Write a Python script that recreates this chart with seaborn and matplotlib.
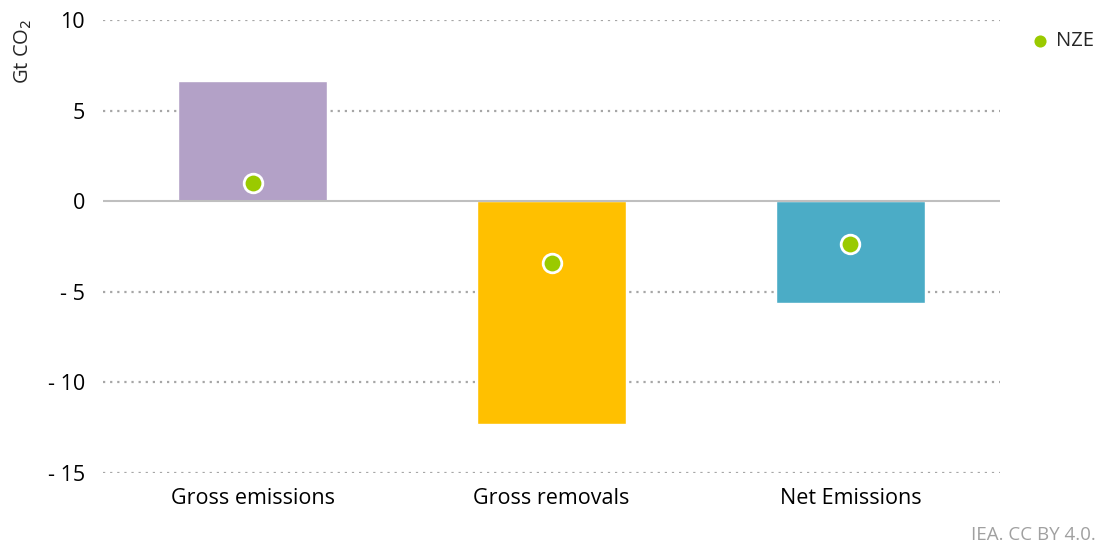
import matplotlib
matplotlib.use('Agg')
import matplotlib.pyplot as plt
import seaborn as sns
import pandas as pd

# Veriler
categories = ["Gross emissions", "Gross removals", "Net Emissions"]
bar_values = [6.62, -12.32, -5.63]
nze_values = [1.0, -3.4, -2.35]
bar_colors = ["#B3A1C7", "#FFC000", "#4BACC6"]
y_ticks = [10, 5, 0, -5, -10, -15]
y_ticklabels = ["10", "5", "0", "- 5", "- 10", "- 15"]

df = pd.DataFrame({"cat": categories, "val": bar_values, "nze": nze_values})

sns.set_style("white")
plt.rcParams['font.family'] = ['Open Sans', 'DejaVu Sans']

fig = plt.figure(figsize=(11.03, 5.52), dpi=100)
ax = fig.add_axes([0.0934, 0.1431, 0.8132, 0.8207])

sns.barplot(data=df, x="cat", y="val", hue="cat", palette=bar_colors,
            width=0.5, legend=False, ax=ax, saturation=1)
sns.scatterplot(data=df, x="cat", y="nze", color="#9ACA00", s=180,
                edgecolor="white", linewidth=2, zorder=5, ax=ax, label="NZE")

ax.set_xlim(-0.5, 2.5)
ax.set_ylim(-15, 10)
ax.set_yticks(y_ticks)
ax.set_yticklabels(y_ticklabels)
for y in y_ticks:
    if y == 0:
        ax.axhline(0, color="#BFBFBF", lw=1.5, zorder=3)
    else:
        ax.axhline(y, color="#A6A6A6", lw=1.6, ls=(0, (1, 2.2)), zorder=0)

for s in ax.spines.values():
    s.set_visible(False)
ax.tick_params(axis='both', length=0, labelsize=15.5, colors="#000000")
ax.tick_params(axis='y', pad=13)
ax.tick_params(axis='x', pad=11)
ax.set_xlabel("")
ax.set_ylabel("Gt CO$_2$", fontsize=14.5)
ax.yaxis.set_label_coords(-0.0775, 0.93)

ax.legend(loc="center left", bbox_to_anchor=(1.0357, 0.9536), frameon=False,
          fontsize=14.5, handlelength=0.8, handletextpad=0.4, borderpad=0,
          borderaxespad=0, markerscale=0.8)

fig.text(0.993, 0.015, "IEA. CC BY 4.0.", ha="right", va="bottom",
         fontsize=13.5, color="#A0A0A0")

fig.savefig("out.png", dpi=100)
